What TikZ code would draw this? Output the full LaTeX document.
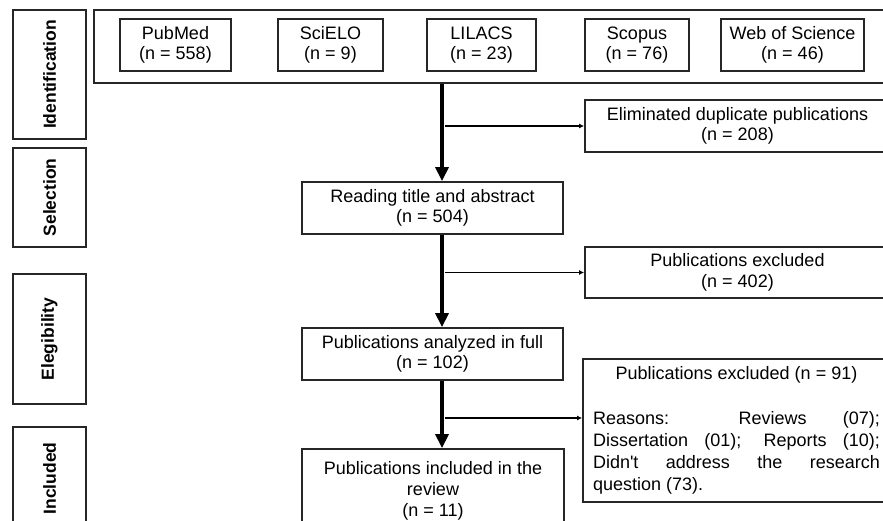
\documentclass[tikz,border=0pt]{standalone}
\usepackage{fontspec}
\setmainfont{Liberation Sans}
\usetikzlibrary{arrows.meta}
\setlength{\parindent}{0pt}
\tikzset{
  boxline/.style={draw=black!85, line width=1.8pt, inner sep=0pt},
  dbbox/.style={boxline, minimum height=52pt, align=center, font=\fontsize{18}{20.5}\selectfont},
  stagebox/.style={boxline, rotate=90, minimum height=73pt, font=\bfseries\fontsize{17.5}{20}\selectfont},
  mainarrow/.style={line width=4.5pt, -{Triangle[length=14pt,width=13pt]}},
  sidearrow/.style={line width=1.6pt, shorten <=3pt, -{Latex[length=5pt,width=5pt]}}
}
\begin{document}
\begin{tikzpicture}[x=1pt,y=-1pt]
    \useasboundingbox (0,0) rectangle (883,521);
    \clip (0,0) rectangle (883,521);
    \node [stagebox, minimum width=129pt] (sid) at (49.5,74.5) {Identification};
    \node [stagebox, minimum width=99pt] (ssel) at (49.5,197.5) {Selection};
    \node [stagebox, minimum width=130pt] (seleg) at (49.5,339) {Elegibility};
    \node [stagebox, minimum width=103pt] (sinc) at (49.5,478.5) {Included};
    \node [boxline, minimum width=801pt, minimum height=73pt] (idframe) at (494.5,46.5) {};
    \node [dbbox, minimum width=111pt] (pubmed) at (175.5,45) {PubMed\\(n = 558)};
    \node [dbbox, minimum width=105pt] (scielo) at (330.5,45) {SciELO\\(n = 9)};
    \node [dbbox, minimum width=109pt] (lilacs) at (481.5,45) {LILACS\\(n = 23)};
    \node [dbbox, minimum width=104pt] (scopus) at (637,45) {Scopus\\(n = 76)};
    \node [dbbox, minimum width=143pt] (wos) at (792.5,45) {Web of Science\\(n = 46)};
    \node [dbbox, minimum width=305pt] (dupl) at (737.5,126) {Eliminated duplicate publications\\(n = 208)};
    \node [dbbox, minimum width=261pt] (read) at (432.5,208) {Reading title and abstract\\(n = 504)};
    \node [dbbox, minimum width=305pt, minimum height=51pt] (excla) at (737.5,272.5) {Publications excluded\\(n = 402)};
    \node [dbbox, minimum width=261pt] (full) at (432.5,354) {Publications analyzed in full\\(n = 102)};
    \node [boxline, minimum width=307pt, minimum height=143pt, text width=287pt, align=justify, font=\fontsize{18}{22.3}\selectfont] (exclb) at (736.5,430.5) {{\centering Publications excluded (n = 91)\par}\vspace{22.3pt}Reasons: Reviews (07);\linebreak Dissertation (01); Reports (10);\linebreak Didn\textquotesingle t address the research\linebreak question (73).};
    \node [dbbox, minimum width=262pt, minimum height=84pt, font=\fontsize{18}{21}\selectfont] (incl) at (433,491) {Publications included in the\\review\\(n = 11)};
    \coordinate (spine) at (442,0);
    \draw [mainarrow] (spine |- idframe.south) -- (spine |- read.north);
    \draw [mainarrow] (spine |- read.south) -- (spine |- full.north);
    \draw [mainarrow] (spine |- full.south) -- (spine |- incl.north);
    \draw [sidearrow] (spine |- dupl.west) -- (dupl.west);
    \draw [sidearrow] (spine |- excla.west) -- (excla.west);
    \draw [sidearrow] (spine |- 0,418) -- (exclb.west |- 0,418);
\end{tikzpicture}
\end{document}
